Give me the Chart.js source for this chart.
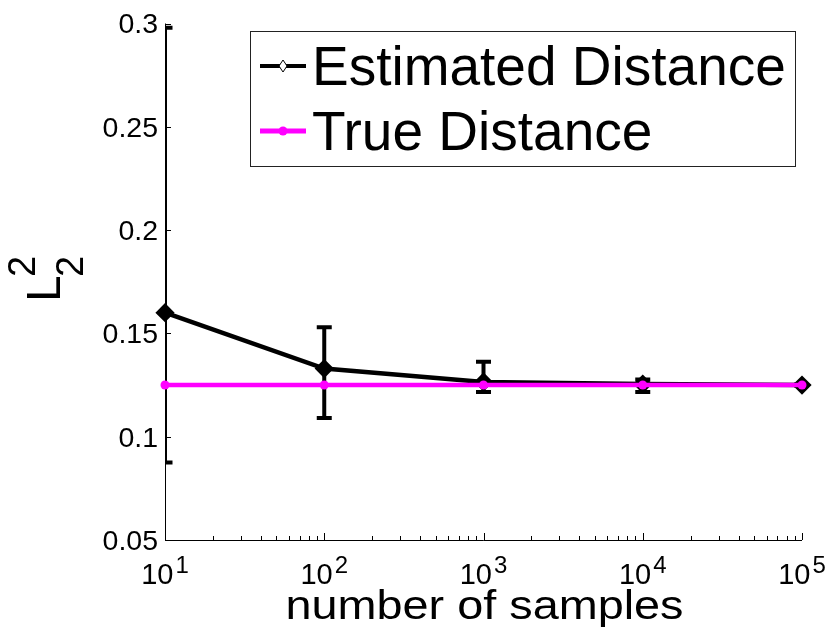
<!DOCTYPE html>
<html>
<head>
<meta charset="utf-8">
<script src="https://cdn.jsdelivr.net/npm/chart.js@4.4.0/dist/chart.umd.min.js"></script>
<style>
  html, body { margin: 0; padding: 0; background: #fff; }
  #wrap { width: 830px; height: 638px; }
</style>
</head>
<body>
<div id="wrap"><canvas id="distChart" width="830" height="638"></canvas></div>
<script>
// values
const samples = [10, 100, 1000, 10000, 100000];
const estimated = [0.160, 0.133, 0.1265, 0.1255, 0.125];
const estLower = [0.0875, 0.109, 0.1216, 0.1216, 0.1245];
const estUpper = [0.298, 0.153, 0.1363, 0.1277, 0.1255];
const trueDist = [0.125, 0.125, 0.125, 0.125, 0.125];

const yTicks = [0.05, 0.1, 0.15, 0.2, 0.25, 0.3];
const yTickLabels = ['0.05', '0.1', '0.15', '0.2', '0.25', '0.3'];
const xTicks = [10, 100, 1000, 10000, 100000];
const xTickExp = ['1', '2', '3', '4', '5'];
const seriesNames = ['Estimated Distance', 'True Distance'];

const FONT = "'Liberation Sans', Arial, sans-serif";
const MAGENTA = '#ff00ff';

function clipArea(ctx, a) {
  ctx.beginPath();
  ctx.rect(a.left, a.top, a.right - a.left, a.bottom - a.top);
  ctx.clip();
}

// axis lines + inward ticks, then error bars (under the lines)
const axesAndBars = {
  id: 'axesAndBars',
  beforeDatasetsDraw(chart) {
    const { ctx, chartArea: a, scales: { x, y } } = chart;
    ctx.save();
    ctx.strokeStyle = '#000';
    ctx.lineWidth = 1;
    ctx.beginPath();
    ctx.moveTo(a.left + 0.5, a.top);
    ctx.lineTo(a.left + 0.5, a.bottom + 0.5);
    ctx.lineTo(a.right, a.bottom + 0.5);
    yTicks.forEach(v => {
      const py = Math.round(y.getPixelForValue(v)) + 0.5;
      ctx.moveTo(a.left, py);
      ctx.lineTo(a.left + 6, py);
    });
    xTicks.forEach((v, i) => {
      const px = Math.round(x.getPixelForValue(v)) + 0.5;
      ctx.moveTo(px, a.bottom);
      ctx.lineTo(px, a.bottom - 7);
      if (i < xTicks.length - 1) {
        for (let m = 2; m <= 9; m++) {
          const mx = Math.round(x.getPixelForValue(v * m)) + 0.5;
          ctx.moveTo(mx, a.bottom);
          ctx.lineTo(mx, a.bottom - 4);
        }
      }
    });
    ctx.stroke();

    clipArea(ctx, a);
    ctx.lineWidth = 4;
    ctx.beginPath();
    samples.forEach((s, i) => {
      const px = x.getPixelForValue(s);
      const top = y.getPixelForValue(estUpper[i]);
      const bot = y.getPixelForValue(estLower[i]);
      ctx.moveTo(px, top); ctx.lineTo(px, bot);
      ctx.moveTo(px - 7.5, top); ctx.lineTo(px + 7.5, top);
      ctx.moveTo(px - 7.5, bot); ctx.lineTo(px + 7.5, bot);
    });
    ctx.stroke();
    ctx.restore();
  }
};

// tick labels, axis titles, legend
const labelsAndLegend = {
  id: 'labelsAndLegend',
  afterDraw(chart) {
    const { ctx, chartArea: a, scales: { x, y } } = chart;
    ctx.save();
    ctx.fillStyle = '#000';

    // y tick labels
    ctx.font = '28.5px ' + FONT;
    ctx.textAlign = 'right';
    ctx.textBaseline = 'middle';
    yTicks.forEach((v, i) => {
      ctx.fillText(yTickLabels[i], a.left - 7, y.getPixelForValue(v) + 2);
    });

    // x tick labels 10^n
    ctx.textAlign = 'left';
    ctx.textBaseline = 'alphabetic';
    xTicks.forEach((v, i) => {
      ctx.font = '29px ' + FONT;
      const wb = ctx.measureText('10').width;
      ctx.font = '24px ' + FONT;
      const we = ctx.measureText(xTickExp[i]).width;
      const left = x.getPixelForValue(v) - (wb + we + 2) / 2;
      ctx.font = '29px ' + FONT;
      ctx.fillText('10', left, a.bottom + 44);
      ctx.font = '24px ' + FONT;
      ctx.fillText(xTickExp[i], left + wb + 2, a.bottom + 33);
    });

    // x title, stretched to the picture's width
    ctx.font = '41px ' + FONT;
    const tw = ctx.measureText('number of samples').width;
    ctx.save();
    ctx.translate((a.left + a.right) / 2 + 1, a.bottom + 79);
    ctx.scale(398 / tw, 1);
    ctx.textAlign = 'center';
    ctx.fillText('number of samples', 0, 0);
    ctx.restore();

    // y title L_2^2
    ctx.save();
    ctx.translate(60, 302);
    ctx.rotate(-Math.PI / 2);
    ctx.textAlign = 'left';
    ctx.font = '48px ' + FONT;
    ctx.fillText('L', 0, 0);
    ctx.font = '38px ' + FONT;
    ctx.fillText('2', 25, 23);
    ctx.fillText('2', 25, -25);
    ctx.restore();

    // legend
    const bx = 250.5, by = 31.5, bw = 545, bh = 135;
    ctx.fillStyle = '#fff';
    ctx.fillRect(bx, by, bw, bh);
    ctx.strokeStyle = '#222';
    ctx.lineWidth = 1;
    ctx.strokeRect(bx, by, bw, bh);

    const rows = [
      { color: '#000', lw: 4, y: 66, base: 85 },
      { color: MAGENTA, lw: 5, y: 131, base: 150 }
    ];
    rows.forEach((r, i) => {
      ctx.strokeStyle = r.color;
      ctx.lineWidth = r.lw;
      ctx.beginPath();
      ctx.moveTo(260, r.y);
      ctx.lineTo(306, r.y);
      ctx.stroke();
      if (i === 0) {
        ctx.fillStyle = '#fff';
        ctx.strokeStyle = '#000';
        ctx.lineWidth = 1;
        ctx.beginPath();
        ctx.moveTo(283, r.y - 6);
        ctx.lineTo(287, r.y);
        ctx.lineTo(283, r.y + 6);
        ctx.lineTo(279, r.y);
        ctx.closePath();
        ctx.fill();
        ctx.stroke();
      } else {
        ctx.fillStyle = MAGENTA;
        ctx.beginPath();
        ctx.arc(283, r.y, 4.5, 0, Math.PI * 2);
        ctx.fill();
      }
      ctx.fillStyle = '#000';
      ctx.font = '55px ' + FONT;
      ctx.textAlign = 'left';
      ctx.fillText(seriesNames[i], 312, r.base);
    });
    ctx.restore();
  }
};

const toPoints = vals => samples.map((s, i) => ({ x: s, y: vals[i] }));

new Chart(document.getElementById('distChart'), {
  type: 'line',
  data: {
    datasets: [
      {
        label: seriesNames[0],
        data: toPoints(estimated),
        borderColor: '#000',
        borderWidth: 4.5,
        pointStyle: 'rectRot',
        pointRadius: 7.5,
        pointBorderWidth: 3,
        pointBackgroundColor: '#000',
        pointBorderColor: '#000',
        tension: 0,
        clip: false,
        order: 2
      },
      {
        label: seriesNames[1],
        data: toPoints(trueDist),
        borderColor: MAGENTA,
        borderWidth: 4.5,
        pointStyle: 'circle',
        pointRadius: 4.5,
        pointBorderWidth: 0,
        pointBackgroundColor: MAGENTA,
        tension: 0,
        clip: false,
        order: 1
      }
    ]
  },
  options: {
    responsive: false,
    animation: false,
    devicePixelRatio: 1,
    layout: { padding: { left: 165, right: 28, top: 23.5, bottom: 98 } },
    plugins: { legend: { display: false }, tooltip: { enabled: false } },
    scales: {
      x: { type: 'logarithmic', min: 10, max: 100000, display: false },
      y: { type: 'linear', min: 0.05, max: 0.3, display: false }
    }
  },
  plugins: [axesAndBars, labelsAndLegend]
});
</script>
</body>
</html>
